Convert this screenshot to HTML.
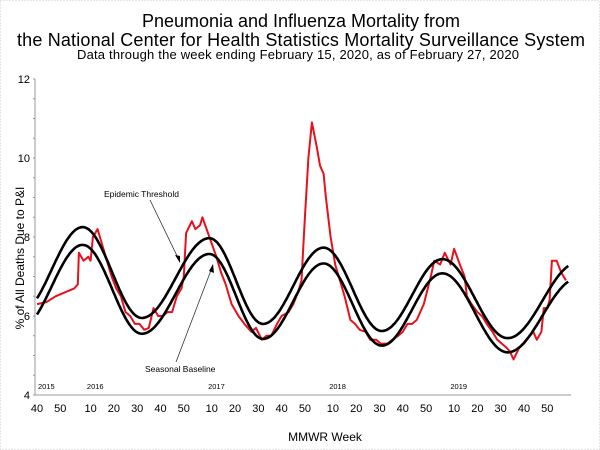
<!DOCTYPE html>
<html><head><meta charset="utf-8"><style>
html,body{margin:0;padding:0;background:#fff;}
svg{display:block;font-family:"Liberation Sans",Arial,sans-serif;}
</style></head><body>
<svg id="chart" width="600" height="450" viewBox="0 0 600 450">
<rect x="0.5" y="0.5" width="599" height="449" fill="#fff" stroke="#ccc" stroke-dasharray="1,2"/>
<text x="301" y="27" text-anchor="middle" font-size="18" textLength="318">Pneumonia and Influenza Mortality from</text>
<text x="301" y="46" text-anchor="middle" font-size="18" textLength="568">the National Center for Health Statistics Mortality Surveillance System</text>
<text x="298" y="59" text-anchor="middle" font-size="13" textLength="442">Data through the week ending February 15, 2020, as of February 27, 2020</text>
<text transform="translate(24,258) rotate(-90)" text-anchor="middle" font-size="12">% of All Deaths Due to P&amp;I</text>
<text x="325" y="441" text-anchor="middle" font-size="12">MMWR Week</text>
<g id="axes"></g>
<g id="marks"></g>
<text x="104" y="197" font-size="8.5">Epidemic Threshold</text>
<text x="145" y="372" font-size="8.5">Seasonal Baseline</text>
<line x1="150" y1="200" x2="180" y2="262" stroke="#333" stroke-width="0.8"/>
<polygon points="180,263 175,255 180,256" fill="#000"/>
<line x1="176" y1="362" x2="213" y2="265" stroke="#333" stroke-width="0.8"/>
<polygon points="213,264 214,273 209,271" fill="#000"/>
</svg>
<script>
// week index 0 = 2015 week 40
const obsWeeks=[0,4,8,12,16,17.5,18,20,22,23,24,26,27,28.5,30,32,34,36,38,40,42,44,46,48,50,52,54,56,58,60,62,63,64,66.5,68,70,71,74,77,79,81,83.5,86.5,89,92,94,96.5,98.5,100.5,103,105,108,110,112,113.5,115,116.5,118,120,121.5,123,124,126,128,130,132,134.5,136.5,138.5,141,143,145.5,147.5,150.5,152.5,155,157,159,161,163,166,169,170.5,173,175,177.5,179,181.5,183.5,184.5,186.5,189,191,193,195.5,197.5,199.5,201.5,203,204.5,207,209,211.5,213,214.5,216.5,217.5,219,220,221,223,225,226,227];
const obsValues=[6.3,6.35,6.5,6.6,6.7,6.8,7.6,7.4,7.5,7.4,8.0,8.2,8.0,7.7,7.4,7.0,6.7,6.5,6.1,6.0,5.8,5.8,5.65,5.7,6.2,6.0,6.0,6.1,6.1,6.5,6.7,7.0,8.1,8.4,8.2,8.3,8.5,8.0,7.5,7.1,6.8,6.3,6.0,5.8,5.6,5.7,5.4,5.5,5.5,5.8,6.0,6.1,6.3,6.6,6.9,8.5,10.0,10.9,10.3,9.8,9.6,9.0,8.0,7.3,6.9,6.5,5.9,5.8,5.65,5.6,5.4,5.4,5.3,5.3,5.4,5.5,5.6,5.8,5.8,5.9,6.3,7.0,7.4,7.3,7.6,7.3,7.7,7.3,7.0,6.5,6.3,6.1,6.0,5.8,5.6,5.4,5.3,5.2,5.1,4.9,5.2,5.3,5.5,5.6,5.4,5.6,6.2,6.2,6.4,7.4,7.4,7.1,7.0,6.9];
// seasonal extremes (peaks/troughs)
const baseWeeks=[-7,19.6,45,74,97,123,148,174,202,232];
const baseValues=[5.7,7.8,5.55,7.57,5.42,7.33,5.25,7.08,5.08,6.95];
const threshWeeks=[-7,19.6,45,74,97,123,148,174,202,232];
const threshValues=[6.1,8.25,5.95,7.97,5.8,7.73,5.62,7.44,5.44,7.35];
const yTicks=[4,6,8,10,12];
const xTickWeeks=[0,10,23,33,43,53,63,75,85,95,105,115,127,137,147,157,167,179,189,199,209,219];
const xTickLabels=["40","50","10","20","30","40","50","10","20","30","40","50","10","20","30","40","50","10","20","30","40","50"];
const yearWeeks=[4,25,77,129,181];
const yearLabels=["2015","2016","2017","2018","2019"];

const X0=37,PXW=2.33,Y0=395,PXV=39.5,XL=35,XR=571;
const sx=w=>X0+w*PXW, sy=v=>Y0-(v-4)*PXV;
const NS="http://www.w3.org/2000/svg";
const axes=document.getElementById('axes'), marks=document.getElementById('marks');
function mk(tag,attrs,parent,txt){const e=document.createElementNS(NS,tag);for(const k in attrs)e.setAttribute(k,attrs[k]);if(txt!==undefined)e.textContent=txt;parent.appendChild(e);return e;}

let e=mk('line',{x1:XL,y1:sy(12),x2:XL,y2:Y0,stroke:'#999','stroke-width':1},axes);


e=mk('line',{x1:XL,y1:Y0,x2:XR,y2:Y0,stroke:'#999','stroke-width':1},axes);


for(let v=4;v<=12.001;v+=0.5){
  e=mk('line',{x1:XL-2,y1:sy(v),x2:XL,y2:sy(v),stroke:'#999','stroke-width':1},axes);
  
  
}
yTicks.forEach(v=>{
  e=mk('text',{x:30,y:sy(v)+4,'text-anchor':'end','font-size':11},axes,String(v));
  
  
});
xTickWeeks.forEach((w,i)=>{
  e=mk('text',{x:sx(w),y:412,'text-anchor':'middle','font-size':11},axes,xTickLabels[i]);
  
  
});
yearWeeks.forEach((w,i)=>{
  e=mk('text',{x:sx(w),y:389,'text-anchor':'middle','font-size':7.5},axes,yearLabels[i]);
  
  
});

function smoothPath(ws,vs){
  let d='';
  for(let w=0;w<=228;w+=0.5){
    let k=0;while(k<ws.length-2&&ws[k+1]<w)k++;
    const t=(w-ws[k])/(ws[k+1]-ws[k]);
    const f=(1-Math.cos(Math.PI*t))/2;
    const v=vs[k]+(vs[k+1]-vs[k])*f;
    d+=(d?'L':'M')+sx(w).toFixed(1)+','+sy(v).toFixed(1);
  }
  return d;
}
e=mk('path',{d:obsWeeks.map((w,i)=>(i?'L':'M')+sx(w).toFixed(1)+','+sy(obsValues[i]).toFixed(1)).join(''),fill:'none',stroke:'#e8111b','stroke-width':2,'stroke-linejoin':'round'},marks);


e=mk('path',{d:smoothPath(threshWeeks,threshValues),fill:'none',stroke:'#000','stroke-width':2.6},marks);


e=mk('path',{d:smoothPath(baseWeeks,baseValues),fill:'none',stroke:'#000','stroke-width':2.6},marks);


</script>
</body></html>
